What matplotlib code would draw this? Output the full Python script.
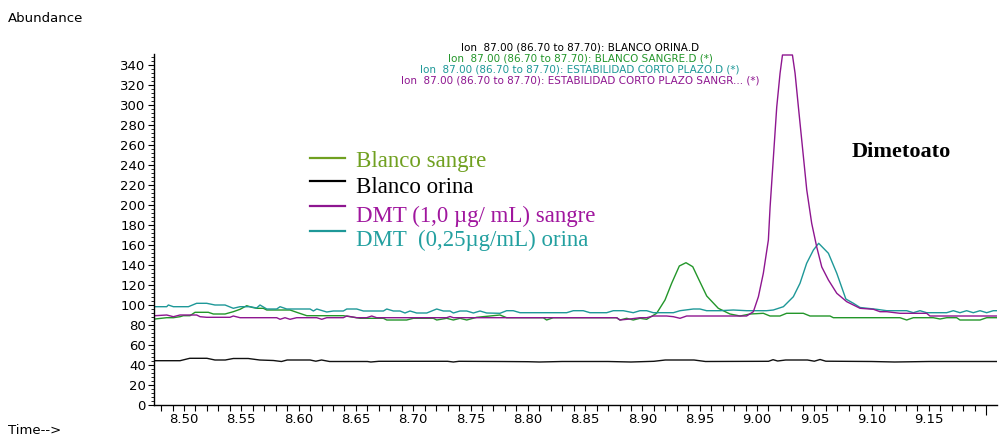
import numpy as np
import matplotlib
matplotlib.use("Agg")
import matplotlib.pyplot as plt
from matplotlib.ticker import MultipleLocator, FixedLocator

# ---- Extracted ion chromatograms, m/z 87.00 (86.70 to 87.70) ----
# Blanco orina
t_blanco_orina = [8.4747, 8.4965, 8.505, 8.520, 8.527, 8.536, 8.543, 8.556, 8.566,
                  8.578, 8.585, 8.590, 8.610, 8.615, 8.620, 8.627, 8.660, 8.663,
                  8.670, 8.730, 8.735, 8.740, 8.776, 8.800, 8.810, 8.830, 8.870,
                  8.890, 8.910, 8.920, 8.945, 8.955, 9.010, 9.014, 9.018, 9.025,
                  9.044, 9.050, 9.055, 9.060, 9.100, 9.120, 9.150, 9.212]
y_blanco_orina = [44.3, 44.3, 46.7, 46.7, 45.0, 45.0, 46.5, 46.5, 45.0,
                  44.5, 43.5, 45.0, 45.0, 43.8, 45.0, 43.5, 43.5, 43.0,
                  43.7, 43.7, 43.0, 43.7, 43.5, 43.3, 43.0, 43.5, 43.5,
                  43.0, 43.7, 45.0, 45.0, 43.5, 43.7, 45.3, 44.0, 45.0,
                  45.0, 43.8, 45.5, 43.8, 43.5, 43.0, 43.5, 43.5]

# Blanco sangre
t_blanco_sangre = [8.4747, 8.4849, 8.4907, 8.4965, 8.4994, 8.5052, 8.5096, 8.5212,
                   8.5256, 8.5358, 8.5430, 8.5489, 8.5547, 8.5591, 8.5634, 8.5692,
                   8.5722, 8.5925, 8.5983, 8.6071, 8.6390, 8.6449, 8.6536, 8.6740,
                   8.6769, 8.6943, 8.7001, 8.7176, 8.7205, 8.7292, 8.7350, 8.7408,
                   8.7467, 8.7554, 8.7670, 8.7757, 8.7815, 8.8135, 8.8164, 8.8222,
                   8.8775, 8.8804, 8.8862, 8.8920, 8.8979, 8.9037, 8.9124, 8.9197,
                   8.9255, 8.9322, 8.9380, 8.9439, 8.9497, 8.9561, 8.9662, 8.9764,
                   8.9852, 8.9939, 9.0055, 9.0113, 9.0200, 9.0258, 9.0404, 9.0462,
                   9.0637, 9.0666, 9.1247, 9.1306, 9.1364, 9.1538, 9.1597, 9.1655,
                   9.1742, 9.1771, 9.1946, 9.2004, 9.2120]
y_blanco_sangre = [86.0, 87.3, 87.3, 88.3, 89.3, 89.3, 92.7, 92.7,
                   91.0, 91.0, 93.3, 95.7, 99.3, 97.7, 96.7, 96.7,
                   95.0, 95.0, 92.7, 89.3, 89.3, 88.3, 86.7, 86.7,
                   85.0, 85.0, 86.7, 86.7, 85.0, 86.7, 85.0, 86.7,
                   85.0, 87.7, 89.0, 90.0, 87.3, 87.3, 85.0, 87.3,
                   87.3, 85.0, 86.7, 85.0, 86.7, 85.7, 91.7, 105.0,
                   121.7, 139.0, 142.3, 138.3, 124.3, 109.0, 96.7, 91.0,
                   89.0, 91.0, 91.7, 89.0, 89.0, 91.7, 91.7, 89.0,
                   89.0, 87.3, 87.3, 85.0, 87.3, 87.3, 86.0, 87.3,
                   87.3, 85.0, 85.0, 87.3, 87.3]

# DMT (0,25 ug/mL) orina
t_dmt_orina = [8.4747, 8.4849, 8.4863, 8.4907, 8.5038, 8.5110, 8.5198, 8.5270,
               8.5358, 8.5430, 8.5489, 8.5576, 8.5634, 8.5663, 8.5722, 8.5809,
               8.5838, 8.5896, 8.6100, 8.6129, 8.6158, 8.6245, 8.6303, 8.6390,
               8.6420, 8.6507, 8.6565, 8.6740, 8.6769, 8.6827, 8.6885, 8.6928,
               8.6972, 8.7030, 8.7118, 8.7205, 8.7263, 8.7321, 8.7350, 8.7408,
               8.7467, 8.7525, 8.7583, 8.7641, 8.7757, 8.7815, 8.7873, 8.7932,
               8.8339, 8.8397, 8.8484, 8.8542, 8.8688, 8.8746, 8.8833, 8.8920,
               8.8979, 8.9037, 8.9095, 8.9270, 8.9328, 8.9444, 8.9502, 8.9560,
               8.9677, 8.9793, 8.9909, 9.0084, 9.0142, 9.0230, 9.0317, 9.0375,
               9.0433, 9.0492, 9.0538, 9.0623, 9.0696, 9.0775, 9.0841, 9.0899,
               9.1044, 9.1131, 9.1306, 9.1364, 9.1422, 9.1480, 9.1655, 9.1713,
               9.1771, 9.1829, 9.1887, 9.1946, 9.2004, 9.2062, 9.2120]
y_dmt_orina = [98.3, 98.3, 100.0, 98.3, 98.3, 101.7, 101.7, 100.0,
               100.0, 96.7, 98.3, 98.3, 97.0, 100.0, 96.0, 96.0,
               98.3, 96.0, 96.0, 94.0, 96.0, 93.0, 94.0, 94.0,
               96.0, 96.0, 94.0, 94.0, 96.0, 94.0, 94.0, 92.0,
               94.0, 92.0, 92.0, 96.0, 94.0, 94.0, 92.0, 94.0,
               94.0, 92.0, 94.0, 92.0, 91.7, 94.3, 94.3, 92.3,
               92.3, 94.3, 94.3, 92.3, 92.3, 94.3, 94.3, 92.3,
               94.3, 94.3, 92.3, 92.3, 94.3, 96.0, 96.0, 94.3,
               94.3, 95.0, 94.3, 94.3, 95.0, 98.3, 108.3, 121.7,
               141.7, 155.0, 161.7, 151.7, 131.7, 106.0, 101.7, 97.5,
               95.7, 94.3, 94.3, 92.3, 94.3, 92.3, 92.3, 94.3,
               92.3, 94.3, 92.3, 94.3, 92.3, 94.3, 94.3]

# DMT (1,0 ug/mL) sangre
t_dmt_sangre = [8.4747, 8.4849, 8.4907, 8.4965, 8.5110, 8.5140, 8.5198, 8.5401,
                8.5430, 8.5489, 8.5809, 8.5838, 8.5881, 8.5925, 8.5983, 8.6158,
                8.6202, 8.6245, 8.6390, 8.6420, 8.6507, 8.6594, 8.6638, 8.6681,
                8.7292, 8.7321, 8.7350, 8.8775, 8.8804, 8.8891, 8.8979, 8.9037,
                8.9095, 8.9211, 8.9270, 8.9328, 8.9386, 8.9909, 8.9968, 9.0012,
                9.0055, 9.0099, 9.0114, 9.0143, 9.0172, 9.0201, 9.0222, 9.0309,
                9.0332, 9.0361, 9.0390, 9.0434, 9.0477, 9.0521, 9.0565, 9.0623,
                9.0696, 9.0783, 9.0899, 9.1016, 9.1073, 9.1132, 9.1247, 9.1480,
                9.1509, 9.2120]
y_dmt_sangre = [89.3, 90.0, 88.3, 90.0, 90.0, 88.3, 87.7, 87.7,
                89.0, 87.3, 87.3, 85.7, 87.3, 85.7, 87.3, 87.3,
                85.7, 87.3, 87.3, 89.0, 87.3, 87.3, 89.0, 87.3,
                87.3, 88.5, 87.3, 87.3, 85.0, 86.0, 87.3, 87.3,
                89.0, 89.0, 88.3, 86.7, 89.0, 89.0, 93.3, 108.3,
                131.7, 165.0, 198.0, 248.0, 298.0, 331.7, 350.0, 350.0,
                331.7, 298.0, 265.0, 215.0, 181.7, 158.0, 138.0, 125.0,
                111.7, 103.3, 96.7, 95.7, 93.3, 93.3, 91.7, 91.7,
                89.0, 89.0]

title_lines = [
    "Ion  87.00 (86.70 to 87.70): BLANCO ORINA.D",
    "Ion  87.00 (86.70 to 87.70): BLANCO SANGRE.D (*)",
    "Ion  87.00 (86.70 to 87.70): ESTABILIDAD CORTO PLAZO.D (*)",
    "Ion  87.00 (86.70 to 87.70): ESTABILIDAD CORTO PLAZO SANGR... (*)",
]
legend_labels = ["Blanco sangre", "Blanco orina",
                 "DMT (1,0 \u00b5g/ mL) sangre", "DMT  (0,25\u00b5g/mL) orina"]
x_ticks = [8.50, 8.55, 8.60, 8.65, 8.70, 8.75, 8.80, 8.85, 8.90, 8.95,
           9.00, 9.05, 9.10, 9.15, 9.20]
x_tick_labels = ["8.50", "8.55", "8.60", "8.65", "8.70", "8.75", "8.80", "8.85",
                 "8.90", "8.95", "9.00", "9.05", "9.10", "9.15", ""]
y_ticks = [0, 20, 40, 60, 80, 100, 120, 140, 160, 180, 200, 220, 240, 260,
           280, 300, 320, 340]

# ---- Styling ----
C_GREEN = "#23962a"
C_TEAL = "#1e9898"
C_PURPLE = "#8e1690"
C_BLACK = "#111111"
LEG_GREEN = "#70a020"
LEG_PURPLE = "#a0169e"
LEG_TEAL = "#23a0a0"
SANS = ["DejaVu Sans"]
SERIF = ["Liberation Serif", "DejaVu Serif"]

W, H = 999, 436
fig = plt.figure(figsize=(W / 100, H / 100), dpi=100)
fig.patch.set_facecolor("white")


def fx(px):
    return px / W


def fy(py):
    return 1 - py / H


ax = fig.add_axes([fx(154), fy(405), fx(997) - fx(154), fy(54) - fy(405)])
ax.set_xlim(8.4738, 9.2094)
ax.set_ylim(0, 351)

lw = 1.0
ax.plot(t_blanco_orina, y_blanco_orina, color=C_BLACK, lw=lw)
ax.plot(t_blanco_sangre, y_blanco_sangre, color=C_GREEN, lw=lw)
ax.plot(t_dmt_orina, y_dmt_orina, color=C_TEAL, lw=lw)
ax.plot(t_dmt_sangre, y_dmt_sangre, color=C_PURPLE, lw=lw)

for s in ("top", "right"):
    ax.spines[s].set_visible(False)
for s in ("left", "bottom"):
    ax.spines[s].set_linewidth(1.0)
    ax.spines[s].set_color("black")

ax.xaxis.set_major_locator(FixedLocator(x_ticks))
ax.set_xticklabels(x_tick_labels)
ax.xaxis.set_minor_locator(MultipleLocator(0.01))
ax.yaxis.set_major_locator(FixedLocator(y_ticks))
ax.yaxis.set_minor_locator(MultipleLocator(4))
ax.tick_params(axis="x", which="both", direction="out", length=4, width=0.8,
               pad=1.5, labelsize=9.5, colors="black")
ax.tick_params(axis="y", which="major", direction="out", length=4, width=0.8,
               pad=2, labelsize=9.5)
ax.tick_params(axis="y", which="minor", direction="out", length=2, width=0.6)
for lab in ax.get_xticklabels() + ax.get_yticklabels():
    lab.set_family(SANS)
ax.xaxis.get_major_ticks()[-1].tick1line.set_markersize(7)

# Axis captions
fig.text(fx(8), fy(22), "Abundance", family=SANS, fontsize=9.5, va="baseline")
fig.text(fx(8), fy(434), "Time-->", family=SANS, fontsize=9.5, va="baseline")

# Stacked chromatogram titles
for txt, col, base in zip(title_lines,
                          ["black", C_GREEN, C_TEAL, C_PURPLE],
                          [51.0, 61.8, 72.6, 83.4]):
    fig.text(fx(580), fy(base), txt, family=SANS, fontsize=7.5, color=col,
             ha="center", va="baseline")

# Hand-drawn legend
leg_line_cols = [LEG_GREEN, "black", C_PURPLE, C_TEAL]
leg_text_cols = [LEG_GREEN, "black", LEG_PURPLE, LEG_TEAL]
leg_line_y = [158, 181.5, 206.5, 231]
leg_base_y = [167, 193, 221.5, 246]
for lab, lc, tc, ly, by in zip(legend_labels, leg_line_cols, leg_text_cols,
                               leg_line_y, leg_base_y):
    fig.add_artist(plt.Line2D([fx(310), fx(345)], [fy(ly), fy(ly)],
                              color=lc, lw=1.6, transform=fig.transFigure))
    fig.text(fx(356), fy(by), lab, family=SERIF, fontsize=16.5, color=tc,
             va="baseline")

fig.text(fx(852), fy(157), "Dimetoato", family=SERIF, fontsize=16,
         fontweight="bold", color="black", va="baseline")

fig.savefig("out.png", dpi=100)
